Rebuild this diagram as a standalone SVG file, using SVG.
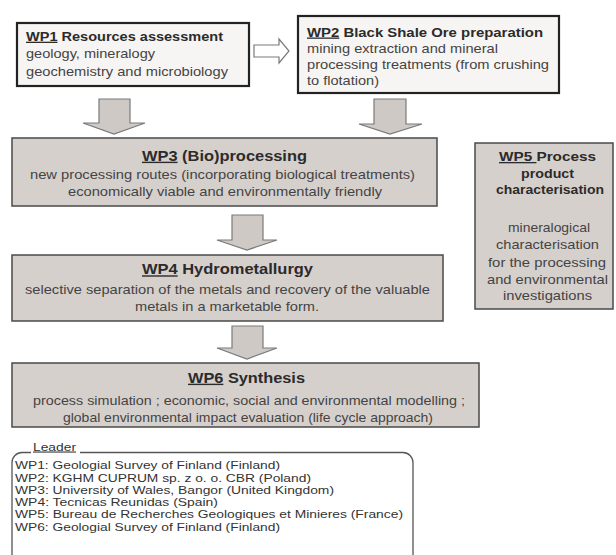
<svg xmlns="http://www.w3.org/2000/svg" width="616" height="555" viewBox="0 0 616 555">
<style>
text{font-family:"Liberation Sans",Arial,sans-serif;}
.t{font-size:13px;font-weight:bold;fill:#2b2b2b;}
.b{font-size:13px;fill:#444;}
.lg{font-size:10.8px;fill:#333;}
.u{text-decoration:underline;}
.top{fill:#f7f5f3;stroke:#222;stroke-width:2.2;}
.mid{fill:#d6d0cc;stroke:#4a4a4a;stroke-width:1.5;}
.arr{fill:#cfc9c5;stroke:#7a7a7a;stroke-width:1.2;}
.harr{fill:#fff;stroke:#7a7a7a;stroke-width:1.2;}
</style>
<rect width="616" height="555" fill="#fff"/>
<g id="connectors">
<polygon class="harr" points="254,45 279,45 279,39 289,51 279,63 279,57 254,57"/>
<polygon class="arr" points="99,99 130,99 130,123 145,123 114,134 83,123 99,123"/>
<polygon class="arr" points="374,99 406,99 406,124 422,124 390,134 359,124 374,124"/>
<polygon class="arr" points="232,215 263,215 263,240 277,240 247,250 217,240 232,240"/>
<polygon class="arr" points="232,326 263,326 263,348 277,348 247,359 217,348 232,348"/>
</g>
<g id="wp1">
<rect class="top" x="17" y="23" width="232" height="63"/>
<text class="t" x="26" y="40.7" textLength="197" lengthAdjust="spacingAndGlyphs"><tspan class="u">WP1</tspan> Resources assessment</text>
<text class="b" x="26" y="57.5" textLength="129" lengthAdjust="spacingAndGlyphs">geology, mineralogy</text>
<text class="b" x="26" y="76" textLength="202" lengthAdjust="spacingAndGlyphs">geochemistry and microbiology</text>
</g>
<g id="wp2">
<rect class="top" x="298" y="16" width="261" height="77"/>
<text class="t" x="307" y="36.5" textLength="236" lengthAdjust="spacingAndGlyphs"><tspan class="u">WP2</tspan> Black Shale Ore preparation</text>
<text class="b" x="307" y="53.3" textLength="191" lengthAdjust="spacingAndGlyphs">mining extraction and mineral</text>
<text class="b" x="307" y="69.3" textLength="242" lengthAdjust="spacingAndGlyphs">processing treatments (from crushing</text>
<text class="b" x="307" y="85.3" textLength="72" lengthAdjust="spacingAndGlyphs">to flotation)</text>
</g>
<g id="wp3">
<rect class="mid" x="12" y="138" width="425" height="68"/>
<text class="t" x="142" y="160.7" textLength="165" lengthAdjust="spacingAndGlyphs" style="font-size:14px"><tspan class="u">WP3</tspan> (Bio)processing</text>
<text class="b" x="30" y="179.3" textLength="385" lengthAdjust="spacingAndGlyphs">new processing routes (incorporating biological treatments)</text>
<text class="b" x="68" y="196" textLength="314" lengthAdjust="spacingAndGlyphs">economically viable and environmentally friendly</text>
</g>
<g id="wp4">
<rect class="mid" x="12" y="255" width="431" height="66"/>
<text class="t" x="142" y="274.3" textLength="171" lengthAdjust="spacingAndGlyphs" style="font-size:14px"><tspan class="u">WP4</tspan> Hydrometallurgy</text>
<text class="b" x="25" y="294" textLength="405" lengthAdjust="spacingAndGlyphs">selective separation of the metals and recovery of the valuable</text>
<text class="b" x="135" y="310.7" textLength="184" lengthAdjust="spacingAndGlyphs">metals in a marketable form.</text>
</g>
<g id="wp6">
<rect class="mid" x="12" y="363" width="467" height="64"/>
<text class="t" x="188" y="382.7" textLength="117" lengthAdjust="spacingAndGlyphs" style="font-size:14px"><tspan class="u">WP6</tspan> Synthesis</text>
<text class="b" x="33" y="405" textLength="432" lengthAdjust="spacingAndGlyphs">process simulation ; economic, social and environmental modelling ;</text>
<text class="b" x="63" y="421.7" textLength="370" lengthAdjust="spacingAndGlyphs">global environmental impact evaluation (life cycle approach)</text>
</g>
<g id="wp5">
<rect class="mid" x="475" y="143" width="138" height="166"/>
<text class="t" x="499" y="161" textLength="97" lengthAdjust="spacingAndGlyphs"><tspan class="u">WP5 </tspan>Process</text>
<text class="t" x="521" y="178.3" textLength="53" lengthAdjust="spacingAndGlyphs">product</text>
<text class="t" x="496" y="194.3" textLength="108" lengthAdjust="spacingAndGlyphs">characterisation</text>
<text class="b" x="508" y="232.3" textLength="82" lengthAdjust="spacingAndGlyphs">mineralogical</text>
<text class="b" x="496" y="249" textLength="103" lengthAdjust="spacingAndGlyphs">characterisation</text>
<text class="b" x="488" y="267.3" textLength="118" lengthAdjust="spacingAndGlyphs">for the processing</text>
<text class="b" x="487" y="284" textLength="121" lengthAdjust="spacingAndGlyphs">and environmental</text>
<text class="b" x="503" y="299.5" textLength="89" lengthAdjust="spacingAndGlyphs">investigations</text>
</g>
<g id="legend">
<path d="M31,452.5 H22 A10,10 0 0 0 12,462.5 V565 M413,565 V462.5 A10,10 0 0 0 403,452.5 H80" fill="none" stroke="#555" stroke-width="1.3"/>
<text class="lg u" x="33" y="450.5" textLength="43" lengthAdjust="spacingAndGlyphs">Leader</text>
<text class="lg" x="15" y="469.3" textLength="265" lengthAdjust="spacingAndGlyphs">WP1: Geologial Survey of Finland (Finland)</text>
<text class="lg" x="15" y="481.7" textLength="296" lengthAdjust="spacingAndGlyphs">WP2: KGHM CUPRUM sp. z o. o. CBR (Poland)</text>
<text class="lg" x="15" y="493.9" textLength="319" lengthAdjust="spacingAndGlyphs">WP3: University of Wales, Bangor (United Kingdom)</text>
<text class="lg" x="15" y="506.1" textLength="203" lengthAdjust="spacingAndGlyphs">WP4: Tecnicas Reunidas (Spain)</text>
<text class="lg" x="15" y="518.3" textLength="388" lengthAdjust="spacingAndGlyphs">WP5: Bureau de Recherches Geologiques et Minieres (France)</text>
<text class="lg" x="15" y="530.5" textLength="265" lengthAdjust="spacingAndGlyphs">WP6: Geologial Survey of Finland (Finland)</text>
</g>
</svg>
